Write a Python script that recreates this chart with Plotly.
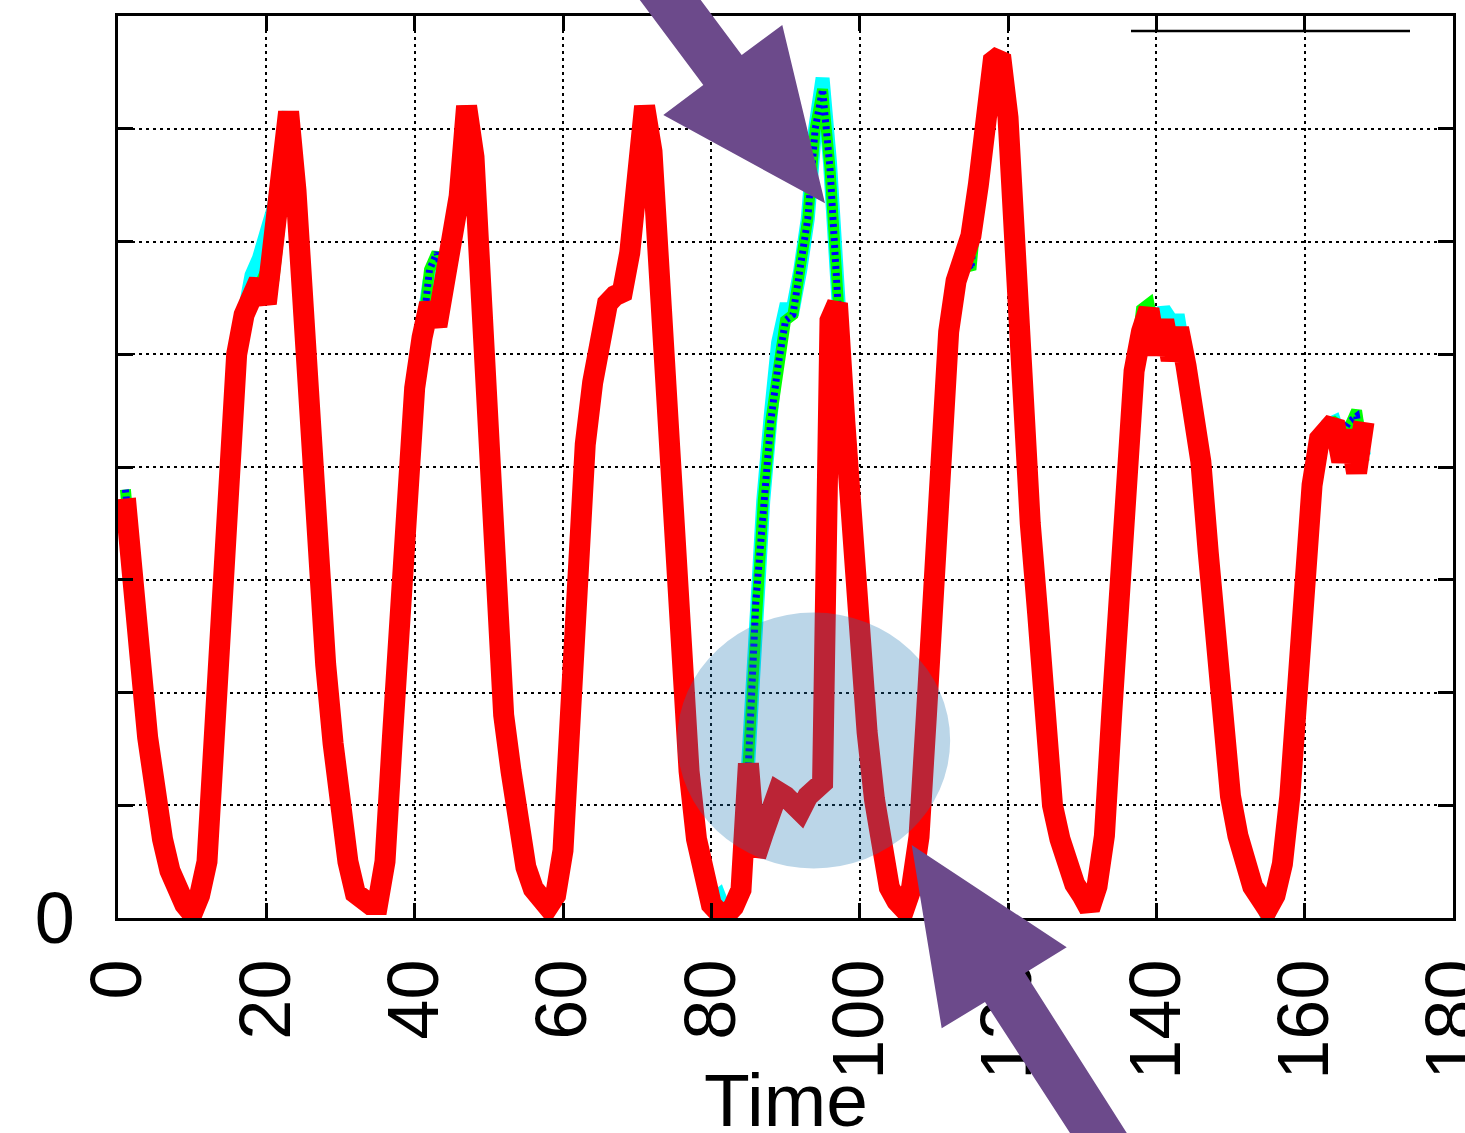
import plotly.graph_objects as go

# ---------------- data ----------------
hours = list(range(1, 169))

red = [
    3.72, 3.15, 2.3, 1.6, 1.05, 0.7, 0.42, 0.22, 0.12, 0.04, 0.2, 0.5,
    1.5, 2.9, 4.2, 5.0, 5.35, 5.55, 5.65, 5.45, 5.95, 6.6, 7.15, 6.45,
    5.25, 4.4, 3.15, 2.25, 1.55, 0.9, 0.5, 0.22, 0.14, 0.12, 0.12, 0.5,
    1.6, 2.9, 4.0, 4.7, 5.15, 5.45, 5.25, 5.6, 5.85, 6.4, 7.2, 6.75,
    5.5, 3.9, 2.7, 1.8, 1.3, 0.8, 0.45, 0.26, 0.15, 0.1, 0.2, 0.6,
    1.8, 3.2, 4.2, 4.75, 5.2, 5.45, 5.52, 5.55, 5.9, 6.6, 7.2, 6.8,
    5.6, 4.55, 3.3, 2.4, 1.3, 0.7, 0.3, 0.12, 0.05, 0.03, 0.1, 0.25,
    1.37, 0.55, 0.75, 0.95, 1.12, 1.08, 1.0, 0.95, 1.08, 1.15, 1.2, 5.3,
    5.45, 4.4, 3.3, 2.4, 1.65, 1.05, 0.52, 0.27, 0.15, 0.08, 0.27, 0.72,
    1.8, 3.06, 4.3, 5.2, 5.65, 5.85, 6.05, 6.5, 7.15, 7.6, 7.65, 7.1,
    5.9, 4.4, 3.5, 2.7, 1.7, 1.0, 0.7, 0.45, 0.3, 0.2, 0.08, 0.28,
    0.73, 1.83, 2.94, 4.25, 4.85, 5.2, 5.4, 5.0, 5.3, 4.95, 5.23, 4.9,
    4.55, 4.05, 3.24, 2.34, 1.58, 1.08, 0.73, 0.48, 0.28, 0.18, 0.08, 0.2,
    0.48, 1.08, 2.2, 3.04, 3.84, 4.25, 4.37, 4.4, 4.05, 4.32, 3.95, 4.4,
]

cyan = [
    3.72, 3.15, 2.3, 1.6, 1.05, 0.7, 0.42, 0.22, 0.12, 0.04, 0.2, 0.5,
    1.5, 2.9, 4.2, 5.0, 5.4, 5.7, 5.85, 6.1, 6.3, 6.7, 7.15, 6.45,
    5.25, 4.4, 3.15, 2.25, 1.55, 0.9, 0.5, 0.22, 0.14, 0.12, 0.12, 0.5,
    1.6, 2.9, 4.0, 4.7, 5.2, 5.65, 5.75, 5.7, 5.85, 6.4, 7.2, 6.75,
    5.5, 3.9, 2.7, 1.8, 1.3, 0.8, 0.45, 0.26, 0.15, 0.1, 0.2, 0.6,
    1.8, 3.2, 4.2, 4.75, 5.2, 5.45, 5.52, 5.55, 5.9, 6.6, 7.2, 6.8,
    5.6, 4.55, 3.3, 2.4, 1.3, 0.7, 0.3, 0.15, 0.2, 0.03, 0.1, 0.25,
    1.37, 2.8, 3.7, 4.45, 5.1, 5.4, 5.4, 5.75, 6.2, 7.0, 7.45, 6.7,
    5.5, 4.4, 3.3, 2.4, 1.65, 1.05, 0.52, 0.27, 0.15, 0.08, 0.27, 0.72,
    1.8, 3.06, 4.3, 5.2, 5.65, 5.9, 6.1, 6.55, 7.15, 7.6, 7.65, 7.1,
    5.9, 4.4, 3.5, 2.7, 1.7, 1.0, 0.7, 0.45, 0.3, 0.2, 0.08, 0.28,
    0.73, 1.83, 2.94, 4.25, 4.85, 5.25, 5.4, 5.25, 5.4, 5.3, 5.3, 4.9,
    4.55, 4.05, 3.24, 2.34, 1.58, 1.08, 0.73, 0.48, 0.28, 0.18, 0.0, 0.2,
    0.48, 1.08, 2.2, 3.04, 3.84, 4.25, 4.37, 4.4, 4.2, 4.35, 4.4, 4.1,
]

green = [
    3.8, 3.15, 2.3, 1.6, 1.05, 0.7, 0.42, 0.22, 0.12, 0.04, 0.2, 0.5,
    1.5, 2.9, 4.2, 5.0, 5.35, 5.55, 5.6, 5.75, 5.65, 6.25, 6.9, 6.45,
    5.25, 4.4, 3.15, 2.25, 1.55, 0.9, 0.5, 0.22, 0.14, 0.12, 0.12, 0.5,
    1.6, 2.9, 4.0, 4.7, 5.15, 5.75, 5.9, 5.65, 5.85, 6.4, 7.2, 6.75,
    5.5, 3.9, 2.7, 1.8, 1.3, 0.8, 0.45, 0.26, 0.15, 0.1, 0.2, 0.6,
    1.8, 3.2, 4.2, 4.75, 5.2, 5.45, 5.52, 5.55, 5.9, 6.6, 7.2, 6.8,
    5.6, 4.55, 3.3, 2.4, 1.3, 0.7, 0.3, 0.12, 0.05, 0.03, 0.1, 0.25,
    1.37, 2.8, 3.7, 4.4, 4.9, 5.3, 5.35, 5.75, 6.2, 7.0, 7.35, 6.65,
    5.5, 4.4, 3.3, 2.4, 1.65, 1.05, 0.52, 0.27, 0.15, 0.08, 0.27, 0.72,
    1.8, 3.06, 4.3, 5.2, 5.65, 5.85, 5.75, 6.5, 7.15, 7.6, 7.65, 7.1,
    5.9, 4.4, 3.5, 2.7, 1.7, 1.0, 0.7, 0.45, 0.3, 0.2, 0.08, 0.28,
    0.73, 1.83, 2.94, 4.25, 4.85, 5.4, 5.45, 5.1, 5.3, 5.05, 5.23, 4.9,
    4.55, 4.05, 3.24, 2.34, 1.58, 1.08, 0.73, 0.48, 0.28, 0.18, 0.08, 0.2,
    0.48, 1.08, 2.2, 3.04, 3.84, 4.25, 4.37, 4.4, 4.35, 4.35, 4.5, 4.05,
]

blue = [
    3.8, 3.15, 2.3, 1.6, 1.05, 0.7, 0.42, 0.22, 0.12, 0.04, 0.2, 0.5,
    1.5, 2.9, 4.2, 5.0, 5.35, 5.55, 5.6, 5.75, 5.65, 6.25, 6.9, 6.45,
    5.25, 4.4, 3.15, 2.25, 1.55, 0.9, 0.5, 0.22, 0.14, 0.12, 0.12, 0.5,
    1.6, 2.9, 4.0, 4.7, 5.15, 5.75, 5.9, 5.65, 5.85, 6.4, 7.2, 6.75,
    5.5, 3.9, 2.7, 1.8, 1.3, 0.8, 0.45, 0.26, 0.15, 0.1, 0.2, 0.6,
    1.8, 3.2, 4.2, 4.75, 5.2, 5.45, 5.52, 5.55, 5.9, 6.6, 7.2, 6.8,
    5.6, 4.55, 3.3, 2.4, 1.3, 0.7, 0.3, 0.12, 0.05, 0.03, 0.1, 0.25,
    1.37, 2.8, 3.7, 4.4, 4.9, 5.3, 5.35, 5.75, 6.2, 7.0, 7.35, 6.65,
    5.5, 4.4, 3.3, 2.4, 1.65, 1.05, 0.52, 0.27, 0.15, 0.08, 0.27, 0.72,
    1.8, 3.06, 4.3, 5.2, 5.65, 5.85, 5.75, 6.5, 7.15, 7.6, 7.65, 7.1,
    5.9, 4.4, 3.5, 2.7, 1.7, 1.0, 0.7, 0.45, 0.3, 0.2, 0.08, 0.28,
    0.73, 1.83, 2.94, 4.25, 4.85, 5.3, 5.4, 5.05, 5.3, 5.0, 5.23, 4.9,
    4.55, 4.05, 3.24, 2.34, 1.58, 1.08, 0.73, 0.48, 0.28, 0.18, 0.08, 0.2,
    0.48, 1.08, 2.2, 3.04, 3.84, 4.25, 4.37, 4.4, 4.3, 4.4, 4.45, 4.05,
]

x_ticks = [0, 20, 40, 60, 80, 100, 120, 140, 160, 180]
x_tick_labels = ["0", "20", "40", "60", "80", "100", "120", "140", "160", "180"]
y_ticks = [0, 1, 2, 3, 4, 5, 6, 7, 8]
y_tick_labels = ["0", "", "", "", "", "", "", "", ""]
x_title = "Time"

# ---------------- figure ----------------
W, H = 1465, 1133
ML, MR, MT, MB = 118, 12, 16, 215
PW, PH = W - ML - MR, H - MT - MB


def px(xp, yp):
    """pixel position on the page -> paper coordinates"""
    return (xp - ML) / PW, (H - MB - yp) / PH


def poly(points):
    parts = []
    for i, (a, b) in enumerate(points):
        u, v = px(a, b)
        parts.append(("M" if i == 0 else "L") + f" {u:.5f} {v:.5f}")
    return " ".join(parts) + " Z"


FONT = "Liberation Sans, Arial, Helvetica, sans-serif"

fig = go.Figure()
fig.add_trace(go.Scatter(x=hours, y=cyan, mode="lines",
                         line=dict(color="#00ffff", width=14), name="cyan"))
fig.add_trace(go.Scatter(x=hours, y=green, mode="lines",
                         line=dict(color="#00ff00", width=11), name="green"))
fig.add_trace(go.Scatter(x=hours, y=blue, mode="lines",
                         line=dict(color="#0000ff", width=7, dash="3px,4px"), name="blue"))
fig.add_trace(go.Scatter(x=hours, y=red, mode="lines",
                         line=dict(color="#ff0000", width=21), name="red"))

axis_common = dict(
    showline=True, linecolor="black", linewidth=2.5, mirror="ticks",
    ticks="inside", ticklen=15, tickwidth=2.5, tickcolor="black",
    showgrid=True, gridcolor="black", gridwidth=1.5, griddash="3px,4px",
    zeroline=False, automargin=False, ticklabeloverflow="allow",
    tickfont=dict(family=FONT, size=72, color="black"),
)

fig.update_xaxes(range=[0, 180], tickvals=x_ticks, ticktext=x_tick_labels,
                 tickangle=-90, ticklabelstandoff=10, **axis_common)
fig.update_yaxes(range=[0, 8], tickvals=y_ticks, ticktext=y_tick_labels,
                 ticklabelstandoff=26, **axis_common)

shapes = [
    # key sample line (empty title)
    dict(type="line", xref="paper", yref="paper",
         x0=px(1131, 31)[0], x1=px(1410, 31)[0], y0=px(0, 31)[1], y1=px(0, 31)[1],
         line=dict(color="black", width=2.5), layer="above"),
    # translucent ellipse
    dict(type="circle", xref="x", yref="y", x0=75.4, x1=112.2, y0=0.44, y1=2.71,
         fillcolor="rgba(31,119,180,0.3)", line=dict(width=0), layer="above"),
    # arrow 1 (top)
    dict(type="path", xref="paper", yref="paper",
         path=poly([(595, -60), (703.3, 85), (663.3, 115), (825, 203.3),
                    (782.3, 25), (741.7, 55), (656, -60)]),
         fillcolor="#6c4a8b", line=dict(width=0), layer="above"),
    # arrow 2 (bottom)
    dict(type="path", xref="paper", yref="paper",
         path=poly([(911.7, 845), (941.7, 1028.3), (985, 1002), (1113.5, 1200),
                    (1169.4, 1200), (1025, 973), (1066.7, 947.3)]),
         fillcolor="#6c4a8b", line=dict(width=0), layer="above"),
]

fig.update_layout(
    width=W, height=H,
    margin=dict(l=ML, r=MR, t=MT, b=MB),
    plot_bgcolor="white", paper_bgcolor="white",
    showlegend=False,
    shapes=shapes,
    annotations=[dict(text=x_title, xref="paper", yref="paper",
                      x=0.5, y=px(0, 1100)[1], xanchor="center", yanchor="middle",
                      showarrow=False, font=dict(family=FONT, size=75, color="black"))],
)

fig.write_html("out.html")
